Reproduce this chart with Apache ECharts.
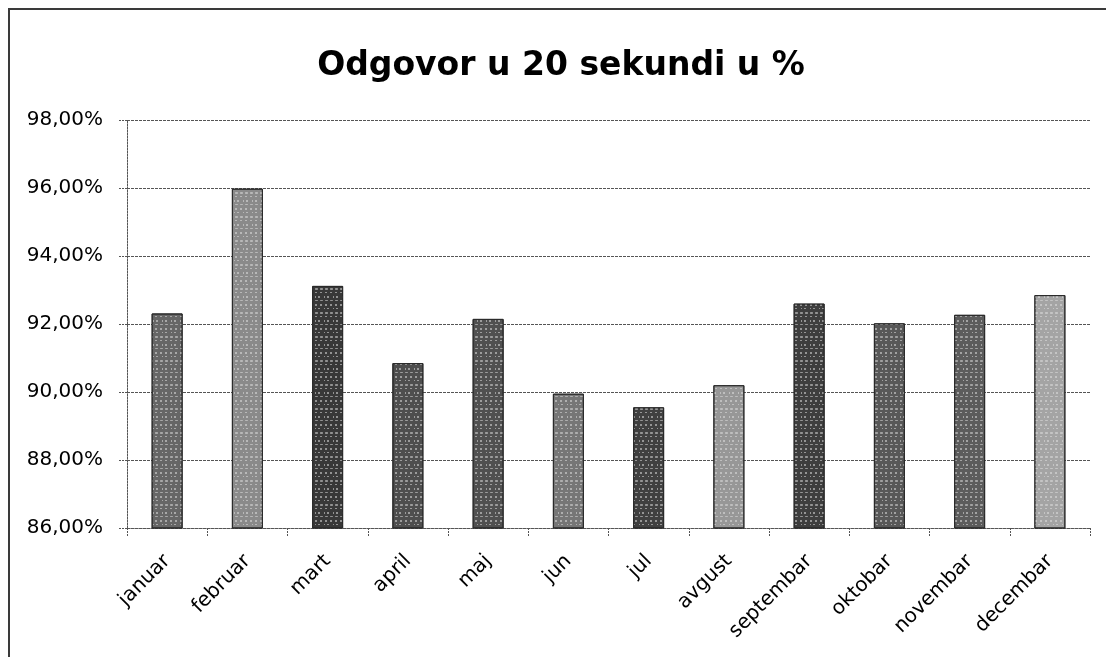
<!DOCTYPE html>
<html>
<head>
<meta charset="utf-8">
<script src="https://cdn.jsdelivr.net/npm/echarts@6/dist/echarts.min.js"></script>
<style>
  html, body { margin: 0; padding: 0; background: #fff; }
  #main { width: 1106px; height: 657px; }
</style>
</head>
<body>
<div id="main"></div>
<script>
// mjeseci
var months = ['januar', 'februar', 'mart', 'april', 'maj', 'jun', 'jul',
  'avgust', 'septembar', 'oktobar', 'novembar', 'decembar'];
// odgovor u 20 sekundi, u %
var answered = [92.31, 95.98, 93.12, 90.85, 92.15, 89.95, 89.55, 90.2, 92.6, 92.02, 92.27, 92.85];
// y os
var yMin = 86;
var yMax = 98;
var yStep = 2;

// sivi tonovi stupaca (scan je sarenо sivo)
var barTones = ['#666666', '#8a8a8a', '#383838', '#4e4e4e', '#505050', '#767676',
  '#404040', '#979797', '#3e3e3e', '#585858', '#5c5c5c', '#a4a4a4'];

var chart = echarts.init(document.getElementById('main'), null, { renderer: 'canvas' });

var speckle = {
  symbol: 'rect',
  symbolSize: 0.9,
  color: 'rgba(225,225,225,0.6)',
  dashArrayX: [[2, 3], [1, 2, 2, 4], [3, 2]],
  dashArrayY: [2, 2, 1, 3],
  rotation: 0
};

var option = {
  backgroundColor: '#fff',
  animation: false,
  graphic: [
    {
      type: 'rect',
      shape: { x: 9, y: 9, width: 1200, height: 700 },
      style: { fill: 'none', stroke: '#3a3a3a', lineWidth: 2 }
    },
    {
      type: 'text',
      x: 561,
      y: 66,
      style: {
        text: 'Odgovor u 20 sekundi u %',
        font: 'bold 33px "DejaVu Sans"',
        fill: '#000',
        textAlign: 'center',
        textVerticalAlign: 'middle'
      }
    }
  ],
  grid: { left: 127, right: 16, top: 120, bottom: 129 },
  xAxis: {
    type: 'category',
    data: months,
    axisLine: { show: true, lineStyle: { color: '#555', width: 1, type: [3, 1] } },
    axisTick: { show: true, alignWithLabel: false, length: 8, lineStyle: { color: '#555', type: [2, 1] } },
    axisLabel: {
      rotate: 45,
      interval: 0,
      margin: 30,
      color: '#000',
      fontFamily: 'DejaVu Sans',
      fontSize: 20
    }
  },
  yAxis: {
    type: 'value',
    min: yMin,
    max: yMax,
    interval: yStep,
    axisLine: { show: true, lineStyle: { color: '#555', width: 1, type: [2, 1] } },
    axisTick: { show: true, length: 9, lineStyle: { color: '#555', type: [2, 1] } },
    splitLine: { show: true, lineStyle: { color: '#555', width: 1, type: [3, 1] } },
    axisLabel: {
      margin: 24,
      color: '#000',
      fontFamily: 'DejaVu Sans',
      fontSize: 20,
      formatter: function (v) { return v.toFixed(2).replace('.', ',') + '%'; }
    }
  },
  series: [{
    type: 'bar',
    barWidth: 31,
    data: answered.map(function (v, i) {
      return {
        value: v,
        itemStyle: { color: barTones[i], borderColor: '#2a2a2a', borderWidth: 1, decal: speckle }
      };
    })
  }]
};

chart.setOption(option);
</script>
</body>
</html>
